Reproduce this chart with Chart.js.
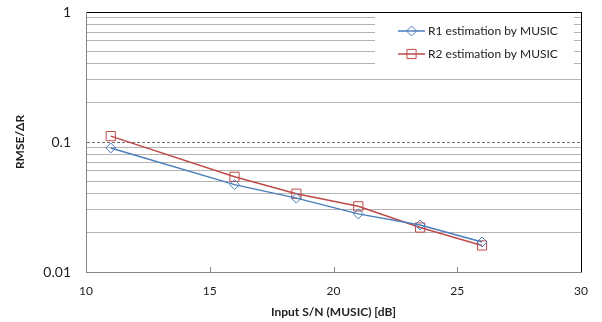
<!DOCTYPE html>
<html>
<head>
<meta charset="utf-8">
<script src="https://cdn.jsdelivr.net/npm/chart.js@4.4.1/dist/chart.umd.min.js"></script>
<style>
  html, body { margin: 0; padding: 0; background: #fff; }
</style>
</head>
<body>
<canvas id="line-chart" width="602" height="322"></canvas>
<script>
// input S/N values [dB]
var snr = [11, 16, 18.5, 21, 23.5, 26];
// RMSE/dR for each series
var r1Music = [0.090, 0.047, 0.037, 0.028, 0.023, 0.017];
var r2Music = [0.111, 0.054, 0.040, 0.032, 0.022, 0.016];
var seriesLabels = ['R1 estimation by MUSIC', 'R2 estimation by MUSIC'];
// axis ticks
var xTicks = [10, 15, 20, 25, 30];
var yTicks = [0.01, 0.02, 0.03, 0.04, 0.05, 0.06, 0.07, 0.08, 0.09,
              0.1, 0.2, 0.3, 0.4, 0.5, 0.6, 0.7, 0.8, 0.9, 1];
var yLabelled = [0.01, 0.1, 1];

var FONT = 'Lato';
var blue = '#4a7ebb';
var red = '#be4b48';

function toPoints(ys) {
    return snr.map(function(x, i) { return {x: x, y: ys[i]}; });
}

// white legend box in the top-right corner of the plot
var legendBox = {
    id: 'legendBox',
    afterDraw: function(chart) {
        var ctx = chart.ctx;
        var area = chart.chartArea;
        var left = area.right - 206;
        var top = area.top + 1;
        ctx.save();
        ctx.fillStyle = '#fff';
        ctx.fillRect(left, top, 199, 56);
        ctx.font = '12px ' + FONT;
        ctx.textBaseline = 'middle';
        ctx.textAlign = 'left';
        chart.data.datasets.forEach(function(ds, i) {
            var y = top + 18 + i * 23;
            var x0 = left + 23;
            ctx.strokeStyle = ds.borderColor;
            ctx.lineWidth = ds.borderWidth;
            ctx.beginPath();
            ctx.moveTo(x0, y);
            ctx.lineTo(x0 + 27, y);
            ctx.stroke();
            ctx.fillStyle = 'rgba(0,0,0,0)';
            ctx.lineWidth = 1;
            Chart.helpers.drawPoint(ctx, {
                pointStyle: ds.pointStyle, radius: ds.pointRadius,
                rotation: 0, borderWidth: 1
            }, x0 + 13.5, y);
            ctx.fillStyle = '#222';
            ctx.fillText(ds.label, x0 + 30, y);
        });
        ctx.restore();
    }
};

// short tick marks pointing into the plot on the x axis
var innerTicks = {
    id: 'innerTicks',
    beforeDatasetsDraw: function(chart) {
        var ctx = chart.ctx;
        var xs = chart.scales.x;
        var bottom = chart.chartArea.bottom;
        ctx.save();
        ctx.strokeStyle = '#868686';
        ctx.lineWidth = 1;
        xTicks.slice(1, -1).forEach(function(v) {
            var px = Math.round(xs.getPixelForValue(v)) + 0.5;
            ctx.beginPath();
            ctx.moveTo(px, bottom);
            ctx.lineTo(px, bottom - 5);
            ctx.stroke();
        });
        ctx.restore();
    }
};

var ctx = document.getElementById('line-chart');
var lineChart = new Chart(ctx, {
    type: 'line',
    data: {
        datasets: [
            {
                label: seriesLabels[0],
                data: toPoints(r1Music),
                borderColor: blue,
                backgroundColor: 'rgba(0,0,0,0)',
                borderWidth: 1.5,
                pointStyle: 'rectRot',
                pointRadius: 5,
                pointBorderWidth: 1,
                tension: 0
            },
            {
                label: seriesLabels[1],
                data: toPoints(r2Music),
                borderColor: red,
                backgroundColor: 'rgba(0,0,0,0)',
                borderWidth: 1.5,
                pointStyle: 'rect',
                pointRadius: 6.5,
                pointBorderWidth: 1,
                tension: 0
            }
        ]
    },
    options: {
        responsive: false,
        animation: false,
        devicePixelRatio: 1,
        layout: { padding: { top: 12, right: 21, left: 0, bottom: 0 } },
        plugins: {
            legend: { display: false },
            tooltip: { enabled: false }
        },
        scales: {
            x: {
                type: 'linear',
                min: 10,
                max: 30,
                afterBuildTicks: function(scale) {
                    scale.ticks = xTicks.map(function(v) { return {value: v}; });
                },
                afterFit: function(scale) {
                    scale.height = 50;
                    scale.paddingLeft = 0;
                    scale.paddingRight = 0;
                },
                grid: {
                    drawTicks: false,
                    color: function(c) {
                        return (c.tick && c.tick.value === 30) ? '#000' : 'rgba(0,0,0,0)';
                    }
                },
                border: { color: '#868686', width: 1 },
                ticks: {
                    padding: 12,
                    color: '#222',
                    font: { family: FONT, size: 12 }
                },
                title: {
                    display: true,
                    text: 'Input S/N (MUSIC) [dB]',
                    color: '#222',
                    font: { family: FONT, size: 12, weight: 'bold' },
                    padding: { top: 0, bottom: 3 }
                }
            },
            y: {
                type: 'logarithmic',
                min: 0.01,
                max: 1,
                afterBuildTicks: function(scale) {
                    scale.ticks = yTicks.map(function(v) { return {value: v}; });
                },
                afterFit: function(scale) {
                    scale.width = 86;
                    scale.paddingTop = 0;
                    scale.paddingBottom = 0;
                },
                grid: {
                    drawTicks: false,
                    color: function(c) {
                        if (!c.tick) return '#b3b3b3';
                        var v = c.tick.value;
                        if (v === 1) return '#000';
                        if (v === 0.1) return '#6e6e6e';
                        if (v === 0.01) return 'rgba(0,0,0,0)';
                        return '#b3b3b3';
                    }
                },
                border: {
                    color: '#868686',
                    width: 1,
                    dash: function(c) {
                        return (c.tick && c.tick.value === 0.1) ? [3, 2] : [];
                    }
                },
                ticks: {
                    autoSkip: false,
                    padding: 15,
                    color: '#222',
                    font: { family: FONT, size: 14 },
                    callback: function(v) {
                        return yLabelled.indexOf(v) >= 0 ? String(v) : '';
                    }
                },
                title: {
                    display: true,
                    text: 'RMSE/ΔR',
                    color: '#222',
                    font: { family: FONT, size: 12, weight: 'bold' },
                    padding: { top: 13, bottom: 0 }
                }
            }
        }
    },
    plugins: [innerTicks, legendBox]
});
</script>
</body>
</html>
